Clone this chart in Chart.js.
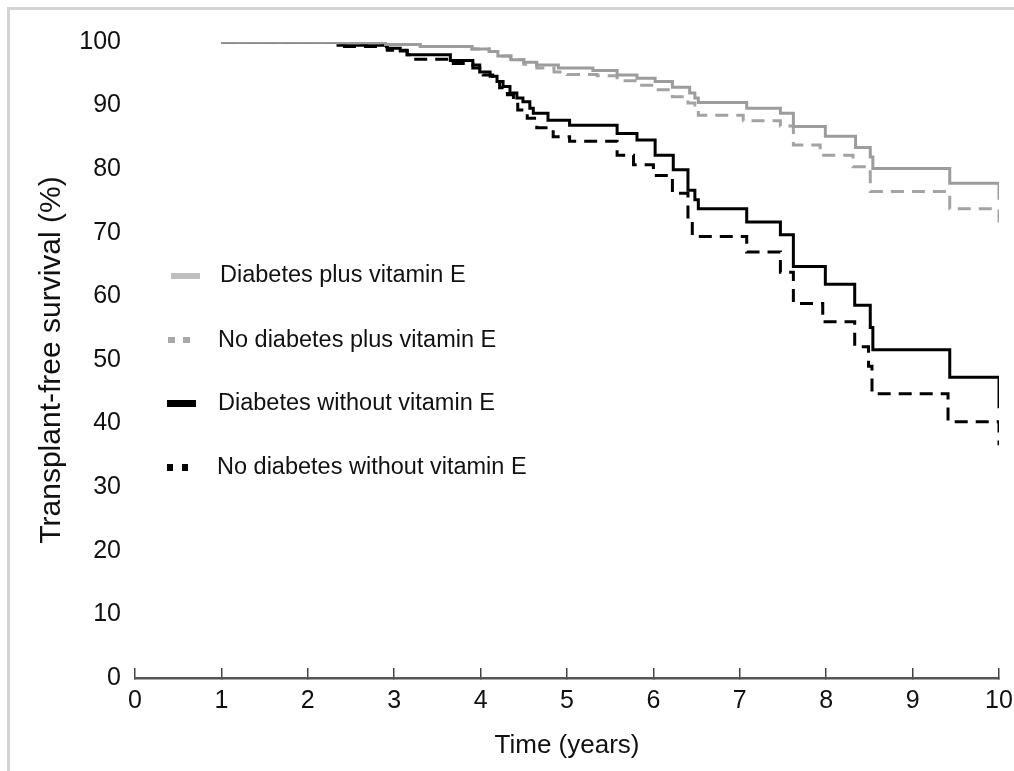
<!DOCTYPE html>
<html>
<head>
<meta charset="utf-8">
<title>Transplant-free survival</title>
<script src="https://cdn.jsdelivr.net/npm/chart.js@4.4.1/dist/chart.umd.min.js"></script>
<style>
    html, body { margin: 0; padding: 0; background: #fff; }
    #wrap { position: relative; width: 1014px; height: 771px; overflow: hidden; }
    #frame { position: absolute; left: 7px; top: 7px; right: -10px; bottom: -10px;
             border-left: 3px solid #d3d3d3; border-top: 3px solid #d3d3d3; }
    #chart { position: absolute; left: 0; top: 0; }
</style>
</head>
<body>
<div id="wrap"><div id="frame"></div><canvas id="chart" width="1014" height="771"></canvas></div>
<script>
// series labels (legend order)
const seriesNames = [
    'Diabetes plus vitamin E',
    'No diabetes plus vitamin E',
    'Diabetes without vitamin E',
    'No diabetes without vitamin E'
];

// Kaplan-Meier steps (time in years, survival in %)
const diabPlusE_t = [1, 2.35, 2.9, 3.3, 3.9, 4.1, 4.2, 4.35, 4.5, 4.65, 4.9, 5.3, 5.58, 5.81, 6.02, 6.22, 6.42, 6.48, 6.52, 7.08, 7.47, 7.62, 7.99, 8.34, 8.51, 8.54, 9.43, 10];
const diabPlusE_s = [100, 99.9, 99.6, 99.3, 98.9, 98.5, 97.8, 97.2, 96.8, 96.4, 95.9, 95.5, 94.8, 94.3, 93.8, 92.9, 92.0, 91.2, 90.5, 89.6, 88.8, 86.7, 85.2, 83.4, 81.9, 80.1, 77.8, 75.2];

const noDiabPlusE_t = [1, 2.35, 2.9, 3.3, 3.9, 4.1, 4.2, 4.35, 4.5, 4.65, 4.85, 5.0, 5.35, 5.58, 5.81, 6.02, 6.22, 6.4, 6.48, 6.52, 7.04, 7.47, 7.62, 7.93, 8.31, 8.51, 9.43, 10];
const noDiabPlusE_s = [100, 99.9, 99.6, 99.3, 98.9, 98.5, 97.8, 97.2, 96.5, 95.9, 95.3, 94.9, 94.7, 93.9, 93.2, 92.5, 91.4, 90.4, 89.6, 88.5, 87.6, 86.8, 83.8, 82.2, 80.4, 76.5, 73.8, 71.0];

const diabNoE_t = [1, 2.35, 2.92, 3.07, 3.15, 3.65, 3.91, 3.99, 4.11, 4.19, 4.26, 4.34, 4.42, 4.49, 4.57, 4.61, 4.78, 5.03, 5.58, 5.81, 6.02, 6.23, 6.40, 6.48, 6.52, 7.08, 7.47, 7.62, 7.99, 8.33, 8.51, 8.54, 9.43, 10];
const diabNoE_s = [100, 99.5, 99.0, 98.6, 98.0, 97.1, 96.4, 95.3, 94.6, 93.8, 93.0, 92.0, 91.2, 90.6, 89.6, 88.8, 87.7, 86.9, 85.6, 84.6, 82.2, 79.9, 76.7, 75.2, 73.8, 71.7, 69.7, 64.7, 61.9, 58.6, 55.1, 51.6, 47.3, 42.4];

const noDiabNoE_t = [1, 2.35, 2.92, 3.15, 3.22, 3.65, 3.91, 4.03, 4.14, 4.22, 4.31, 4.38, 4.43, 4.54, 4.65, 4.84, 5.03, 5.58, 5.77, 6.00, 6.22, 6.40, 6.45, 7.08, 7.47, 7.62, 7.96, 8.33, 8.49, 8.53, 9.41, 10];
const noDiabNoE_s = [100, 99.3, 98.7, 98.0, 97.3, 96.6, 95.9, 94.8, 93.8, 92.8, 91.7, 90.6, 89.3, 88.0, 86.5, 85.1, 84.4, 82.2, 80.7, 79.0, 76.2, 72.5, 69.4, 67.0, 63.8, 58.9, 56.0, 52.1, 49.0, 44.7, 40.3, 36.6];

// axis ticks
const xTicks = [0, 1, 2, 3, 4, 5, 6, 7, 8, 9, 10];
const yTicks = [0, 10, 20, 30, 40, 50, 60, 70, 80, 90, 100];

const family = "'Liberation Sans', Arial, Helvetica, sans-serif";

function toPoints(ts, ss) {
    return ts.map((t, i) => ({ x: t, y: ss[i] }));
}

function curve(label, ts, ss, color, dashed) {
    return {
        label: label,
        data: toPoints(ts, ss),
        borderColor: color,
        borderWidth: 3,
        borderDash: dashed ? [13, 8] : [],
        stepped: true,
        pointRadius: 0,
        fill: false
    };
}

// legend drawn inside the plot, left side, like the original figure
const sideLegend = {
    id: 'sideLegend',
    afterDraw(chart) {
        const ctx = chart.ctx;
        const items = [
            { swatch: [[171, 273, 29, 6]], color: '#bfbfbf', tx: 220, ty: 276 },
            { swatch: [[168, 337, 7, 6], [183, 337, 7, 6]], color: '#a8a8a8', tx: 218, ty: 341 },
            { swatch: [[167, 400, 29, 7]], color: '#000', tx: 218, ty: 404 },
            { swatch: [[167, 464, 6, 7], [182, 464, 6, 7]], color: '#000', tx: 217, ty: 468 }
        ];
        ctx.save();
        ctx.font = '23.5px ' + family;
        ctx.textBaseline = 'middle';
        ctx.textAlign = 'left';
        items.forEach((it, i) => {
            ctx.fillStyle = it.color;
            it.swatch.forEach(r => ctx.fillRect(r[0], r[1], r[2], r[3]));
            ctx.fillStyle = '#111';
            ctx.fillText(chart.data.datasets[i].label, it.tx, it.ty);
        });
        ctx.restore();
    }
};

Chart.defaults.font.family = family;
Chart.defaults.color = '#111';

new Chart(document.getElementById('chart'), {
    type: 'line',
    data: {
        datasets: [
            curve(seriesNames[0], diabPlusE_t, diabPlusE_s, '#9c9c9c', false),
            curve(seriesNames[1], noDiabPlusE_t, noDiabPlusE_s, '#a3a3a3', true),
            curve(seriesNames[2], diabNoE_t, diabNoE_s, '#000', false),
            curve(seriesNames[3], noDiabNoE_t, noDiabNoE_s, '#000', true)
        ]
    },
    options: {
        responsive: false,
        animation: false,
        layout: { padding: { top: 42, right: 15, bottom: 0, left: 0 } },
        plugins: { legend: { display: false }, tooltip: { enabled: false } },
        scales: {
            x: {
                type: 'linear',
                min: 0, max: 10,
                afterBuildTicks: s => { s.ticks = xTicks.map(v => ({ value: v })); },
                afterFit: s => { s.height = 93; s.paddingLeft = 0; s.paddingRight = 0; },
                ticks: { font: { size: 25 }, padding: 18, color: '#111', maxRotation: 0 },
                grid: { display: true, drawOnChartArea: false, drawTicks: true, tickLength: -10, color: '#444', lineWidth: 1.5 },
                border: { display: true, color: '#555', width: 2.5 },
                title: { display: true, text: 'Time (years)', font: { size: 26 }, color: '#111', padding: { top: 0, bottom: 10 } }
            },
            y: {
                min: 0, max: 100,
                afterBuildTicks: s => { s.ticks = yTicks.map(v => ({ value: v })); },
                afterFit: s => { s.width = 135; s.paddingTop = 0; s.paddingBottom = 0; },
                ticks: { font: { size: 25 }, padding: 14, color: '#111' },
                grid: { display: false, drawTicks: false },
                border: { display: false },
                title: { display: true, text: 'Transplant-free survival (%)', font: { size: 30 }, color: '#111', padding: { top: 34, bottom: 0 } }
            }
        }
    },
    plugins: [sideLegend]
});
</script>
</body>
</html>
